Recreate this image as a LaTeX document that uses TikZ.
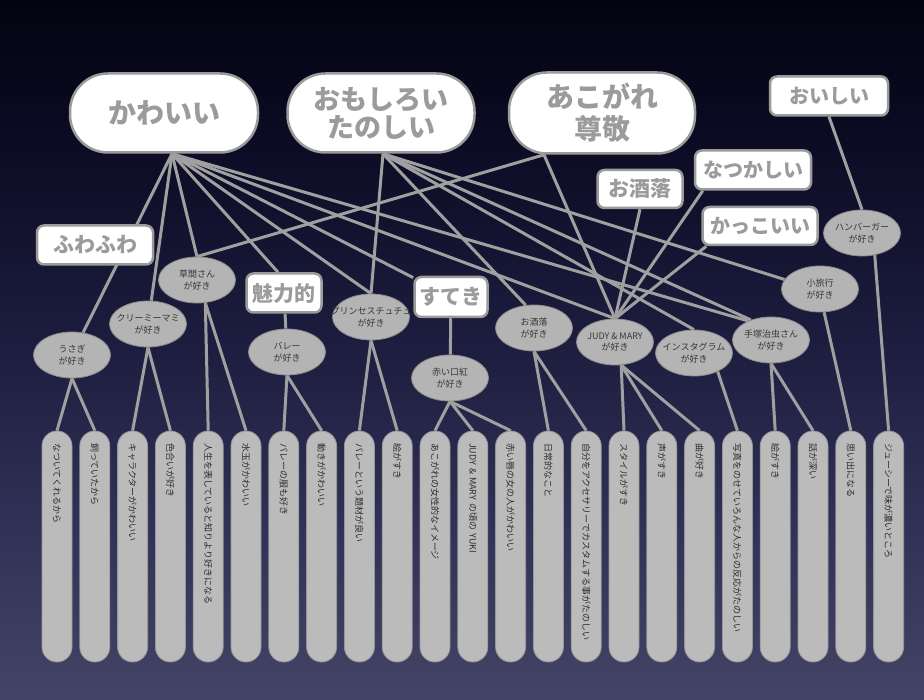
\documentclass[tikz,border=0pt]{standalone}
\usepackage{fontspec}
\newfontfamily\jp{Noto Sans CJK JP}
\usetikzlibrary{shapes.geometric}

\definecolor{linec}{RGB}{160,160,160}
\definecolor{boxtxt}{RGB}{155,155,155}
\definecolor{boxln}{RGB}{155,155,155}
\definecolor{ellfill}{RGB}{180,180,180}
\definecolor{ellln}{RGB}{140,140,140}
\definecolor{elltxt}{RGB}{55,55,55}
\definecolor{barfill}{RGB}{187,187,187}
\definecolor{barln}{RGB}{150,150,150}
\definecolor{bartxt}{RGB}{45,45,45}
\definecolor{bgA}{RGB}{100,100,128}
\definecolor{bgB}{RGB}{75,75,108}
\definecolor{bgC}{RGB}{50,50,88}
\definecolor{bgD}{RGB}{28,28,62}
\definecolor{bgE}{RGB}{10,10,34}
\definecolor{bgF}{RGB}{0,0,6}

\pgfdeclareverticalshading{nightsky}{100bp}{%
  color(0bp)=(bgA); color(20bp)=(bgB); color(37bp)=(bgC);
  color(51bp)=(bgD); color(66bp)=(bgE); color(80bp)=(bgF);
  color(100bp)=(black)}

\pgfdeclarelayer{bglayer}
\pgfdeclarelayer{edgelayer}
\pgfsetlayers{bglayer,edgelayer,main}

% two centred lines of fixed nominal width, so long words may overhang the ellipse
\newcommand{\twolines}[2]{\makebox[40pt][c]{#1}\\\makebox[40pt][c]{#2}}

\tikzset{
  edge/.style={draw=linec, line width=3pt},
  pill/.style={draw=boxln, line width=2.5pt, fill=white, text=boxtxt,
    rounded corners=38pt, inner sep=0pt, align=center,
    font=\jp\bfseries\fontsize{28}{32}\selectfont},
  wbox/.style={draw=boxln, line width=2.5pt, fill=white, text=boxtxt,
    rounded corners=7pt, inner sep=0pt, minimum height=39pt,
    font=\jp\bfseries\fontsize{21}{24}\selectfont},
  likes/.style={ellipse, draw=ellln, line width=0.8pt, fill=ellfill,
    text=elltxt, minimum width=77pt, minimum height=46pt, inner sep=0pt,
    align=center, font=\jp\fontsize{9}{11.5}\selectfont},
  reason/.style={draw=barln, line width=0.8pt, fill=barfill, text=bartxt,
    rotate=-90, rounded corners=15pt, minimum height=30pt,
    text width=207pt, align=left, inner xsep=12pt, inner ysep=0pt,
    font=\jp\fontsize{9}{10}\selectfont}
}

\begin{document}
\begin{tikzpicture}[x=1pt,y=-1pt]
\useasboundingbox (0,0) rectangle (924,700);
\begin{pgfonlayer}{bglayer}
  \shade[shading=nightsky] (0,0) rectangle (924,700);
\end{pgfonlayer}

% top-level feelings
\node[pill, minimum width=188pt, minimum height=79pt] (kawaii) at (164,113) {かわいい};
\node[pill, minimum width=187pt, minimum height=79pt, font=\jp\bfseries\fontsize{27}{28}\selectfont] (omoshiroi) at (381,113) {おもしろい\\たのしい};
\node[pill, minimum width=186pt, minimum height=81pt] (akogare) at (602,113) {あこがれ\\尊敬};
\node[wbox, minimum width=118pt, font=\jp\bfseries\fontsize{20}{24}\selectfont] (oishii) at (829,96) {おいしい};

% secondary words
\node[wbox, minimum width=116pt] (fuwafuwa) at (95,245) {ふわふわ};
\node[wbox, minimum width=75pt] (miryoku) at (284,293) {魅力的};
\node[wbox, minimum width=73pt, minimum height=40pt] (suteki) at (451,297) {すてき};
\node[wbox, minimum width=85pt, minimum height=38pt] (osharebox) at (640,189) {お酒落};
\node[wbox, minimum width=116pt, font=\jp\bfseries\fontsize{20}{24}\selectfont] (natsukashii) at (753,170) {なつかしい};
\node[wbox, minimum width=115pt, minimum height=38pt, font=\jp\bfseries\fontsize{20}{24}\selectfont] (kakkoii) at (760,226) {かっこいい};

% liked things
\node[likes] (usagi) at (72,355) {\twolines{うさぎ}{が好き}};
\node[likes] (creamy) at (148,324) {\twolines{クリーミーマミ}{が好き}};
\node[likes] (kusama) at (197,280) {\twolines{草間さん}{が好き}};
\node[likes] (ballet) at (287,352) {\twolines{バレー}{が好き}};
\node[likes] (princess) at (371,317) {\twolines{プリンセスチュチュ}{が好き}};
\node[likes] (akai) at (450,378) {\twolines{赤い口紅}{が好き}};
\node[likes] (osharel) at (534,328) {\twolines{お酒落}{が好き}};
\node[likes] (judy) at (615,342) {\twolines{JUDY \& MARY}{が好き}};
\node[likes] (insta) at (694,353) {\twolines{インスタグラム}{が好き}};
\node[likes] (tezuka) at (771,340) {\twolines{手塚治虫さん}{が好き}};
\node[likes] (ryokou) at (820,289) {\twolines{小旅行}{が好き}};
\node[likes] (hamburger) at (862,233) {\twolines{ハンバーガー}{が好き}};

% reasons
\foreach \t [count=\i] in {なついてくれるから, 飼っていたから, キャラクターがかわいい,
  色合いが好き, 人生を表していると知りより好きになる, 水玉がかわいい,
  バレーの服も好き, 動きがかわいい, バレーという題材が良い, 絵がすき,
  あこがれの女性的なイメージ, JUDY \& MARY の頃の YUKI, 赤い唇の女の人がかわいい,
  日常的なこと, 自分をアクセサリーでカスタムする事がたのしい, スタイルがすき,
  声がすき, 曲が好き, 写真をのせていろんな人からの反応がたのしい, 絵がすき,
  話が深い, 思い出になる, ジューシーで味が濃いところ}
  \node[reason] (b\i) at ({57+37.8*(\i-1)},546.5) {\t};

\begin{pgfonlayer}{edgelayer}
  \coordinate (ka) at ([xshift=8pt]kawaii.south);
  \coordinate (om) at ([xshift=2pt]omoshiroi.south);
  \coordinate (ak) at ([xshift=-58pt]akogare.south);
  % from かわいい
  \foreach \n in {usagi, creamy, kusama.north, princess.north, suteki, judy.north, tezuka.140}
    \draw[edge] (ka) -- (\n);
  \draw[edge] (ka) -- ([xshift=-6pt]miryoku.north);
  % from おもしろい
  \foreach \n in {princess.north, osharel.110, insta.north, tezuka.135, ryokou.165}
    \draw[edge] (om) -- (\n);
  % from あこがれ
  \draw[edge] (ak) -- (kusama.north);
  \draw[edge] (ak) -- (judy.north);
  % secondary words
  \draw[edge] (miryoku) -- (ballet);
  \draw[edge] (suteki) -- (akai);
  \draw[edge] (osharebox.south) -- (judy.north);
  \draw[edge] ([xshift=9pt]natsukashii.south west) -- (judy.north);
  \draw[edge] ([xshift=5pt]kakkoii.south west) -- (judy.north);
  \draw[edge] (oishii.south) -- (hamburger.north);
  % liked things to reasons
  \draw[edge] (usagi.south) -- (b1.west);
  \draw[edge] (usagi.south) -- (b2.west);
  \draw[edge] (creamy.south) -- (b3.west);
  \draw[edge] (creamy.south) -- (b4.west);
  \draw[edge] (kusama.-70) -- (b5.west);
  \draw[edge] (kusama.-70) -- (b6.west);
  \draw[edge] (ballet.south) -- (b7.west);
  \draw[edge] (ballet.south) -- (b8.west);
  \draw[edge] (princess.south) -- (b9.west);
  \draw[edge] (princess.south) -- (b10.west);
  \draw[edge] (akai.south) -- (b11.west);
  \draw[edge] (akai.south) -- (b12.west);
  \draw[edge] (akai.south) -- (b13.west);
  \draw[edge] (osharel.south) -- (b14.west);
  \draw[edge] (osharel.south) -- (b15.west);
  \draw[edge] (judy.-75) -- (b16.west);
  \draw[edge] (judy.-75) -- (b17.west);
  \draw[edge] (judy.-75) -- (b18.west);
  \draw[edge] (insta.-38) -- (b19.west);
  \draw[edge] (tezuka.south) -- (b20.west);
  \draw[edge] (tezuka.south) -- (b21.west);
  \draw[edge] (ryokou.-80) -- (b22.west);
  \draw[edge] (hamburger.-60) -- (b23.west);
\end{pgfonlayer}
\end{tikzpicture}
\end{document}
